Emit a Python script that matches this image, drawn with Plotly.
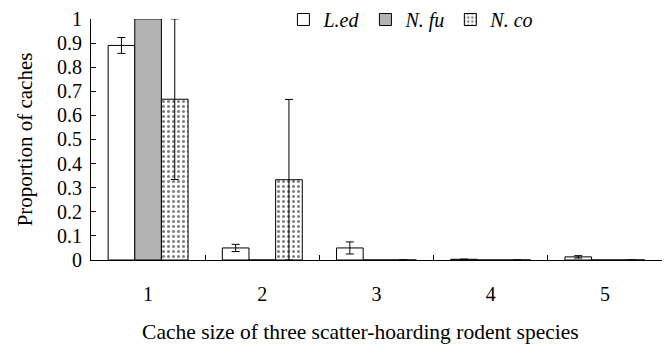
import plotly.graph_objects as go

categories = ["1", "2", "3", "4", "5"]
led_vals = [0.89, 0.05, 0.05, 0.003, 0.013]
led_err = [0.033, 0.015, 0.025, 0.0, 0.005]
nfu_vals = [1.0, 0.0, 0.0, 0.0, 0.0]
nco_vals = [0.667, 0.333, 0.0, 0.0, 0.0]
nco_err = [0.333, 0.333, 0.0, 0.0, 0.0]
y_ticks = [0, 0.1, 0.2, 0.3, 0.4, 0.5, 0.6, 0.7, 0.8, 0.9, 1]
y_ticktext = ["0", "0.1", "0.2", "0.3", "0.4", "0.5", "0.6", "0.7", "0.8", "0.9", "1"]

FONT = "Liberation Serif, Times New Roman, serif"
line = dict(color="black", width=1)
eb = dict(type="data", visible=True, color="black", thickness=1, width=4)

fig = go.Figure()
fig.add_trace(go.Bar(
    x=categories, y=led_vals, name="L.ed",
    marker=dict(color="white", line=line),
    error_y=dict(array=led_err, **eb),
))
fig.add_trace(go.Bar(
    x=categories, y=nfu_vals, name="N. fu",
    marker=dict(color="#b3b3b3", line=line),
))
fig.add_trace(go.Bar(
    x=categories, y=nco_vals, name="N. co",
    marker=dict(color="white", line=line,
                pattern=dict(shape=".", fgcolor="black", bgcolor="white",
                             size=5, solidity=0.3, fillmode="overlay")),
    error_y=dict(array=nco_err, **eb),
))

H = 344
top_px, bot_px = 18, 84
fig.update_layout(
    width=670, height=H,
    margin=dict(l=91, r=8, t=0, b=bot_px),
    paper_bgcolor="white", plot_bgcolor="white",
    barmode="group", bargap=0.3, bargroupgap=0,
    font=dict(family=FONT, size=20, color="black"),
    showlegend=True,
    legend=dict(orientation="h", x=0.337, y=1.005, xanchor="left", yanchor="top",
                font=dict(family=FONT, size=20, style="italic"),
                bgcolor="rgba(0,0,0,0)", itemwidth=30, tracegroupgap=0),
)
fig.update_xaxes(
    type="category", range=[-0.5, 4.5], automargin=False,
    showline=True, linecolor="black", linewidth=1,
    ticks="inside", ticklen=5, tickcolor="black", tickson="boundaries",
    ticklabelstandoff=16,
    showgrid=False, zeroline=False,
    title=dict(text="Cache size of three scatter-hoarding rodent species" + "&nbsp;" * 6,
               standoff=20, font=dict(size=21.5)),
    tickfont=dict(size=20),
)
fig.update_yaxes(
    range=[0, 1.0], tickvals=y_ticks, ticktext=y_ticktext, automargin=False,
    domain=[0, (H - bot_px - top_px) / (H - bot_px)],
    showline=True, linecolor="black", linewidth=1,
    ticks="inside", ticklen=5, tickcolor="black",
    ticklabelstandoff=4,
    showgrid=False, zeroline=False,
    title=dict(text="Proportion of caches", standoff=18, font=dict(size=21)),
    tickfont=dict(size=20),
)

fig.write_html(
    "out.html",
    config={"displayModeBar": False},
    post_script="document.body.style.margin='0';document.body.style.overflow='hidden';",
)
